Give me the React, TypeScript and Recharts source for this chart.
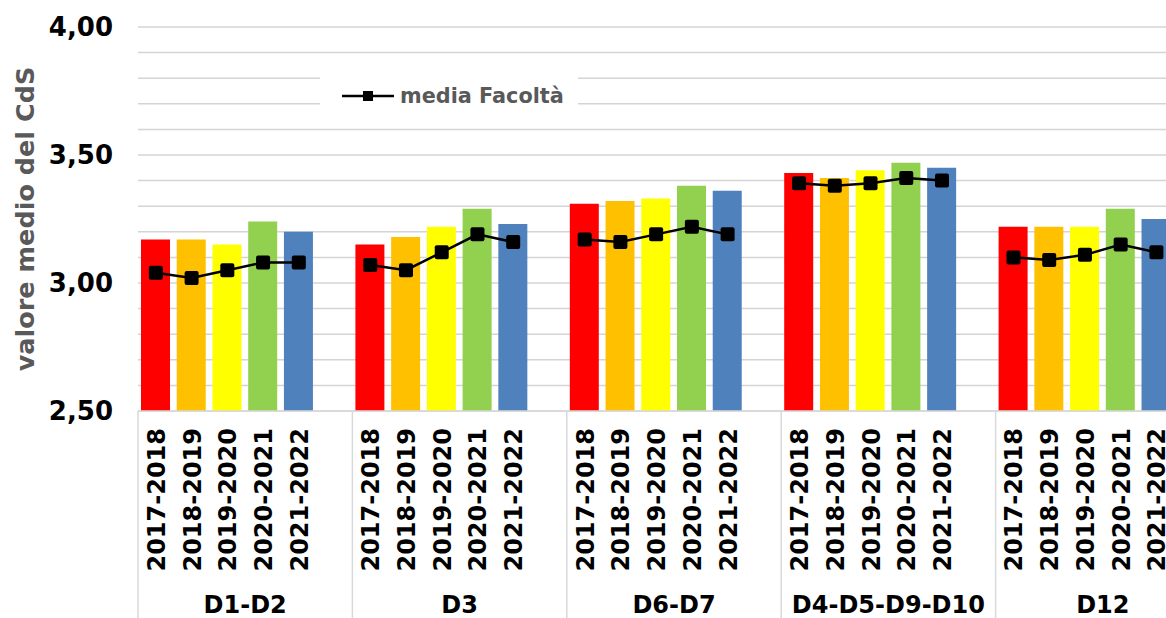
import { Bar, CartesianGrid, Cell, ComposedChart, Legend, Line, XAxis, YAxis } from "recharts";

const groups = ["D1-D2", "D3", "D6-D7", "D4-D5-D9-D10", "D12"];
const years = ["2017-2018", "2018-2019", "2019-2020", "2020-2021", "2021-2022"];
const yearColors = ["#FF0000", "#FFC000", "#FFFF00", "#92D050", "#4F81BD"];

// valore medio del CdS, per gruppo e anno accademico
const cdsD1D2 = [3.17, 3.17, 3.15, 3.24, 3.2];
const cdsD3 = [3.15, 3.18, 3.22, 3.29, 3.23];
const cdsD6D7 = [3.31, 3.32, 3.33, 3.38, 3.36];
const cdsD4D5D9D10 = [3.43, 3.41, 3.44, 3.47, 3.45];
const cdsD12 = [3.22, 3.22, 3.22, 3.29, 3.25];

// media Facoltà
const mediaD1D2 = [3.04, 3.02, 3.05, 3.08, 3.08];
const mediaD3 = [3.07, 3.05, 3.12, 3.19, 3.16];
const mediaD6D7 = [3.17, 3.16, 3.19, 3.22, 3.19];
const mediaD4D5D9D10 = [3.39, 3.38, 3.39, 3.41, 3.4];
const mediaD12 = [3.1, 3.09, 3.11, 3.15, 3.12];

const yTicks = [2.5, 2.6, 2.7, 2.8, 2.9, 3.0, 3.1, 3.2, 3.3, 3.4, 3.5, 3.6, 3.7, 3.8, 3.9, 4.0];
const labeledTicks = [2.5, 3.0, 3.5, 4.0];

const cdsByGroup = [cdsD1D2, cdsD3, cdsD6D7, cdsD4D5D9D10, cdsD12];
const mediaByGroup = [mediaD1D2, mediaD3, mediaD6D7, mediaD4D5D9D10, mediaD12];

interface Row { slot: string; group: number; year: number; cds: number | null; media: number | null }

const rows: Row[] = groups.flatMap((g, gi) => [
  ...years.map((y, yi) => ({ slot: `${g}|${y}`, group: gi, year: yi, cds: cdsByGroup[gi][yi], media: mediaByGroup[gi][yi] })),
  { slot: `${g}|blank`, group: gi, year: -1, cds: null, media: null },
]);

const CHART_W = 1210;
const CHART_H = 618;
const LEFT = 138;
const TOP = 27;
const AXIS_H = 207;
const BAND = (CHART_W - LEFT) / rows.length;
const FONT = "'DejaVu Sans', Verdana, sans-serif";

function XTick({ x, y, payload }: any) {
  const row = rows.find((r) => r.slot === payload.value);
  if (!row) return null;
  if (row.year < 0) return <g />;
  const left = x - BAND / 2;
  return <g>
    {row.year === 0 && <line x1={left} x2={left} y1={y} y2={CHART_H} stroke="#d9d9d9" strokeWidth={1.5} />}
    {row.year === 0 && <text x={left + BAND * 3} y={605} textAnchor="middle" dominantBaseline="central" fontFamily={FONT} fontWeight="bold" fontSize={24} fill="#000">{groups[row.group]}</text>}
    <text transform={`translate(${x + 1},${y + 17}) rotate(-90)`} textAnchor="end" dominantBaseline="central" fontFamily={FONT} fontWeight="bold" fontSize={24} fill="#000">{years[row.year]}</text>
  </g>;
}

function SquareDot({ cx, cy, index, value }: any) {
  if (value == null || cx == null) return <g key={index} />;
  return <rect key={index} x={cx - 7} y={cy - 7} width={14} height={14} rx={2} fill="#000" />;
}

function LegendBox() {
  return <div style={{ display: "flex", alignItems: "center", height: "100%", background: "#fff", paddingLeft: 22, boxSizing: "border-box" }}>
    <svg width={56} height={16}>
      <line x1={0} x2={52} y1={8} y2={8} stroke="#000" strokeWidth={2.5} />
      <rect x={21} y={3} width={10} height={10} fill="#000" />
    </svg>
    <span style={{ fontFamily: FONT, fontWeight: "bold", fontSize: 20.8, color: "#595959", marginLeft: 2 }}>media Facoltà</span>
  </div>;
}

function YLabel() {
  return <text transform="translate(25,219) rotate(-90)" textAnchor="middle" dominantBaseline="central" fontFamily={FONT} fontWeight="bold" fontSize={25.5} fill="#595959">valore medio del CdS</text>;
}

export default function App() {
  return <div style={{ position: "fixed", left: 0, top: 0, width: 1166, height: 618, overflow: "hidden", background: "#fff" }}>
    <ComposedChart width={CHART_W} height={CHART_H} data={rows} margin={{ top: TOP, right: 0, bottom: 0, left: 0 }}>
      <CartesianGrid vertical={false} stroke="#d4d4d4" strokeWidth={1.5} />
      <XAxis dataKey="slot" type="category" interval={0} height={AXIS_H} tick={<XTick />} tickLine={false} tickSize={0} tickMargin={0} axisLine={{ stroke: "#d9d9d9", strokeWidth: 1.5 }} />
      <YAxis domain={[2.5, 4]} ticks={yTicks} width={LEFT} interval={0} axisLine={false} tickLine={false} tickSize={0} tickMargin={25}
        tickFormatter={(v: number) => labeledTicks.some((t) => Math.abs(t - v) < 1e-6) ? v.toFixed(2).replace(".", ",") : ""}
        tick={{ fill: "#000", fontSize: 26, fontWeight: "bold", fontFamily: FONT }} label={<YLabel />} />
      <Legend layout="horizontal" verticalAlign="middle" align="center" content={<LegendBox />}
        wrapperStyle={{ position: "absolute", left: 320, top: 68, width: 258, height: 56, margin: 0 }} />
      <Bar dataKey="cds" barSize={29} isAnimationActive={false} legendType="none">
        {rows.map((r) => <Cell key={r.slot} fill={r.year >= 0 ? yearColors[r.year] : "none"} />)}
      </Bar>
      <Line dataKey="media" name="media Facoltà" stroke="#000" strokeWidth={2.5} dot={<SquareDot />} activeDot={false} connectNulls={false} isAnimationActive={false} />
    </ComposedChart>
  </div>;
}
